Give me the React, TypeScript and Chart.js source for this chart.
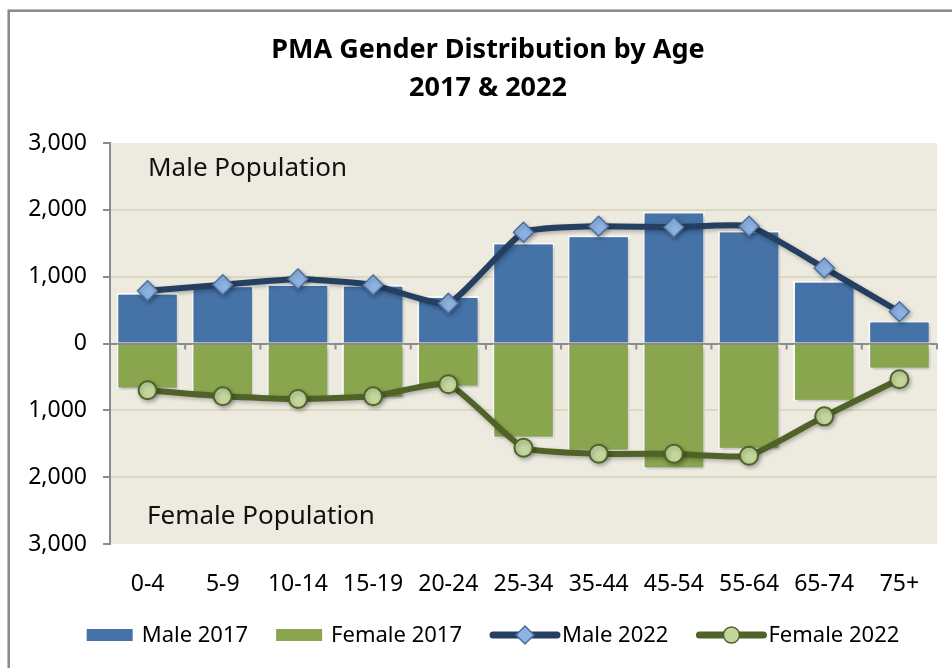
import React, { useEffect, useRef } from 'react';
import { Chart, registerables } from 'chart.js';

Chart.register(...registerables);

const categories = ['0-4', '5-9', '10-14', '15-19', '20-24', '25-34', '35-44', '45-54', '55-64', '65-74', '75+'];
const male2017 = [760, 870, 890, 880, 710, 1510, 1620, 1975, 1690, 940, 345];
const female2017 = [690, 810, 840, 825, 660, 1420, 1615, 1880, 1590, 870, 390];
const male2022 = [790, 880, 965, 875, 600, 1665, 1755, 1740, 1755, 1130, 475];
const female2022 = [700, 790, 830, 790, 610, 1560, 1650, 1650, 1680, 1090, 535];
const yMin = -3000;
const yMax = 3000;
const yStep = 1000;
const titleLines = ['PMA Gender Distribution by Age', '2017 & 2022'];
const seriesNames = ['Male 2017', 'Female 2017', 'Male 2022', 'Female 2022'];
const areaLabels = ['Male Population', 'Female Population'];

const FONT = '"Noto Sans", "Open Sans", sans-serif';
const C = {
  male: '#4572A7',
  female: '#89A54E',
  maleLine: '#243F60',
  maleMarker: '#8DB3E2',
  maleMarkerBorder: '#4A6E9E',
  femaleLine: '#4F6228',
  femaleMarker: '#C3D69B',
  femaleMarkerBorder: '#4F6228',
  plotBg: '#EDEAE0',
  grid: '#DDD8C3',
  axis: '#8C8C8C',
  border: '#8A8A8A',
};

const decorPlugin = {
  id: 'decor',
  beforeDraw(chart: any) {
    const { ctx, chartArea: a } = chart;
    ctx.save();
    ctx.fillStyle = '#ffffff';
    ctx.fillRect(0, 0, chart.width, chart.height);
    ctx.fillStyle = C.plotBg;
    ctx.fillRect(a.left, a.top, a.right - a.left, a.bottom - a.top);
    ctx.restore();
  },
  beforeDatasetsDraw(chart: any) {
    const { ctx, chartArea: a, scales } = chart;
    const y = scales.y;
    ctx.save();
    ctx.fillStyle = '#111';
    ctx.font = `26px ${FONT}`;
    ctx.textAlign = 'left';
    ctx.textBaseline = 'middle';
    ctx.fillText(areaLabels[0], a.left + 38, y.getPixelForValue(2620));
    ctx.fillText(areaLabels[1], a.left + 37, y.getPixelForValue(-2590));
    // x-axis tick marks at zero line
    const y0 = y.getPixelForValue(0);
    const x = scales.x;
    ctx.strokeStyle = C.axis;
    ctx.lineWidth = 2;
    for (let i = 1; i <= categories.length; i++) {
      const px = i === categories.length ? a.right : (x.getPixelForValue(i - 1) + x.getPixelForValue(i)) / 2;
      ctx.beginPath();
      ctx.moveTo(px, y0);
      ctx.lineTo(px, y0 + 6);
      ctx.stroke();
    }
    ctx.restore();
  },
  beforeDatasetDraw(chart: any) {
    const ctx = chart.ctx;
    ctx.save();
    ctx.shadowColor = 'rgba(0,0,0,0.28)';
    ctx.shadowBlur = 4;
    ctx.shadowOffsetX = 1.5;
    ctx.shadowOffsetY = 2;
  },
  afterDatasetDraw(chart: any) {
    chart.ctx.restore();
  },
  afterDraw(chart: any) {
    const { ctx } = chart;
    ctx.save();
    // outer border
    ctx.strokeStyle = C.border;
    ctx.lineWidth = 2.5;
    ctx.strokeRect(8.7, 10.7, 2000, 2000);
    // title
    ctx.fillStyle = '#000';
    ctx.font = `bold 27px ${FONT}`;
    ctx.textAlign = 'center';
    ctx.textBaseline = 'middle';
    ctx.fillText(titleLines[0], 488, 50);
    ctx.fillText(titleLines[1], 488, 88);
    // legend
    ctx.font = `22px ${FONT}`;
    const items = [
      { kind: 'box', color: C.male, label: seriesNames[0] },
      { kind: 'box', color: C.female, label: seriesNames[1] },
      { kind: 'line', color: C.maleLine, fill: C.maleMarker, stroke: C.maleMarkerBorder, marker: 'diamond', label: seriesNames[2] },
      { kind: 'line', color: C.femaleLine, fill: C.femaleMarker, stroke: C.femaleMarkerBorder, marker: 'circle', label: seriesNames[3] },
    ];
    const symW = (it: any) => (it.kind === 'box' ? 46 : 70);
    const symGap = (it: any) => (it.kind === 'box' ? 9 : 2);
    const itemGap = 28;
    const widths = items.map((it) => symW(it) + symGap(it) + ctx.measureText(it.label).width);
    const total = widths.reduce((s, w) => s + w, 0) + itemGap * (items.length - 1);
    let lx = 493 - total / 2;
    const cy = 635;
    items.forEach((it: any, i) => {
      if (it.kind === 'box') {
        ctx.fillStyle = it.color;
        ctx.fillRect(lx, cy - 6, 46, 12);
      } else {
        ctx.strokeStyle = it.color;
        ctx.lineWidth = 7;
        ctx.lineCap = 'round';
        ctx.beginPath();
        ctx.moveTo(lx + 3, cy);
        ctx.lineTo(lx + 67, cy);
        ctx.stroke();
        const mx = lx + 35;
        ctx.fillStyle = it.fill;
        ctx.strokeStyle = it.stroke;
        ctx.lineWidth = 1.5;
        ctx.beginPath();
        if (it.marker === 'diamond') {
          ctx.moveTo(mx, cy - 9);
          ctx.lineTo(mx + 9, cy);
          ctx.lineTo(mx, cy + 9);
          ctx.lineTo(mx - 9, cy);
          ctx.closePath();
        } else {
          ctx.arc(mx, cy, 8, 0, Math.PI * 2);
        }
        ctx.fill();
        ctx.stroke();
      }
      ctx.fillStyle = '#000';
      ctx.textAlign = 'left';
      ctx.textBaseline = 'middle';
      ctx.fillText(it.label, lx + symW(it) + symGap(it), cy + 1);
      lx += widths[i] + itemGap;
    });
    ctx.restore();
  },
};

export default function App() {
  const ref = useRef<HTMLCanvasElement | null>(null);
  useEffect(() => {
    document.body.style.margin = '0';
    const canvas = ref.current!;
    const chart = new Chart(canvas, {
      type: 'bar',
      data: {
        labels: categories,
        datasets: [
          {
            type: 'line',
            label: seriesNames[2],
            data: male2022,
            stack: 'm22',
            order: 1,
            borderColor: C.maleLine,
            borderWidth: 6,
            tension: 0.15,
            pointStyle: 'rectRot',
            pointRadius: 10,
            pointBackgroundColor: C.maleMarker,
            pointBorderColor: C.maleMarkerBorder,
            pointBorderWidth: 1.5,
          } as any,
          {
            type: 'line',
            label: seriesNames[3],
            data: female2022.map((v) => -v),
            stack: 'f22',
            order: 1,
            borderColor: C.femaleLine,
            borderWidth: 6,
            tension: 0.15,
            pointStyle: 'circle',
            pointRadius: 9,
            pointBackgroundColor: C.femaleMarker,
            pointBorderColor: C.femaleMarkerBorder,
            pointBorderWidth: 2,
          } as any,
          {
            type: 'bar',
            label: seriesNames[0],
            data: male2017,
            stack: 'bars',
            order: 2,
            backgroundColor: C.male,
            borderColor: '#ffffff',
            borderWidth: 2,
            barPercentage: 0.83,
            categoryPercentage: 1,
          },
          {
            type: 'bar',
            label: seriesNames[1],
            data: female2017.map((v) => -v),
            stack: 'bars',
            order: 2,
            backgroundColor: C.female,
            borderColor: '#ffffff',
            borderWidth: 2,
            barPercentage: 0.83,
            categoryPercentage: 1,
          },
        ],
      },
      options: {
        animation: false,
        responsive: false,
        devicePixelRatio: 1,
        layout: { padding: { left: 0, right: 15, top: 143, bottom: 44 } },
        plugins: { legend: { display: false }, title: { display: false }, tooltip: { enabled: false } },
        scales: {
          x: {
            stacked: true,
            grid: { display: false },
            border: { display: false },
            ticks: { color: '#000', font: { family: FONT, size: 23 }, padding: 19, maxRotation: 0 },
            afterFit: (s: any) => { s.height = 80; },
          },
          y: {
            stacked: true,
            min: yMin,
            max: yMax,
            ticks: {
              stepSize: yStep,
              color: '#000',
              font: { family: FONT, size: 23 },
              padding: 16,
              callback: (v: any) => Math.abs(Number(v)).toLocaleString('en-US'),
            },
            grid: {
              color: (c: any) => (c.tick && c.tick.value === 0 ? C.axis : (c.tick && Math.abs(c.tick.value) === 3000 ? 'rgba(0,0,0,0)' : C.grid)),
              lineWidth: 2,
              tickColor: C.axis,
              tickLength: 7,
              tickWidth: 2,
            },
            border: { display: true, color: C.axis, width: 2 },
            afterFit: (s: any) => { s.width = 110; },
          },
        },
      },
      plugins: [decorPlugin],
    } as any);
    return () => chart.destroy();
  }, []);
  return <canvas ref={ref} width={952} height={668} style={{ display: 'block' }} />;
}
